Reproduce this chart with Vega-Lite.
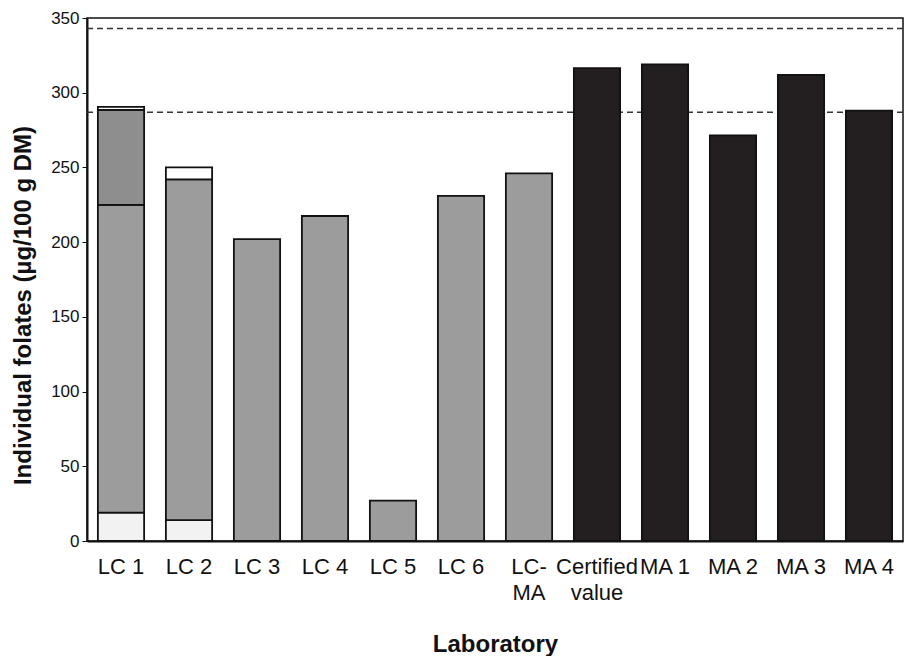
{
  "$schema": "https://vega.github.io/schema/vega-lite/v6.json",
  "width": 816,
  "height": 523,
  "autosize": {"type": "none"},
  "padding": {"left": 87, "top": 18, "right": 3, "bottom": 115},
  "background": "white",
  "config": {
    "view": {"stroke": "#111", "strokeWidth": 1.5},
    "font": "Liberation Sans"
  },
  "datasets": {
    "bars": [
      {"lab": "LC 1", "type": "dotted", "y0": 0, "y1": 19},
      {"lab": "LC 1", "type": "hatchB", "y0": 19, "y1": 225},
      {"lab": "LC 1", "type": "hatchF", "y0": 225, "y1": 288.5},
      {"lab": "LC 1", "type": "white", "y0": 288.5, "y1": 290.5},
      {"lab": "LC 2", "type": "dotted", "y0": 0, "y1": 14},
      {"lab": "LC 2", "type": "hatchB", "y0": 14, "y1": 242},
      {"lab": "LC 2", "type": "white", "y0": 242, "y1": 250},
      {"lab": "LC 3", "type": "hatchB", "y0": 0, "y1": 202},
      {"lab": "LC 4", "type": "hatchB", "y0": 0, "y1": 217.5},
      {"lab": "LC 5", "type": "hatchB", "y0": 0, "y1": 27},
      {"lab": "LC 6", "type": "hatchB", "y0": 0, "y1": 231},
      {"lab": "LC-MA", "type": "hatchB", "y0": 0, "y1": 246},
      {"lab": "Certified value", "type": "black", "y0": 0, "y1": 316.5},
      {"lab": "MA 1", "type": "black", "y0": 0, "y1": 319},
      {"lab": "MA 2", "type": "black", "y0": 0, "y1": 271.5},
      {"lab": "MA 3", "type": "black", "y0": 0, "y1": 312},
      {"lab": "MA 4", "type": "black", "y0": 0, "y1": 288}
    ],
    "refs": [{"v": 287}, {"v": 343}]
  },
  "layer": [
    {
      "data": {"name": "refs"},
      "mark": {"type": "rule", "strokeDash": [6, 4], "strokeWidth": 1.5, "color": "#333"},
      "encoding": {
        "y": {"field": "v", "type": "quantitative", "scale": {"domain": [0, 350]}}
      }
    },
    {
      "data": {"name": "bars"},
      "mark": {"type": "bar", "stroke": "#111", "strokeWidth": 1.8},
      "encoding": {
        "x": {
          "field": "lab",
          "type": "nominal",
          "sort": ["LC 1", "LC 2", "LC 3", "LC 4", "LC 5", "LC 6", "LC-MA", "Certified value", "MA 1", "MA 2", "MA 3", "MA 4"],
          "scale": {"paddingInner": 0.32, "paddingOuter": 0.16},
          "axis": {
            "title": "Laboratory",
            "titleFontSize": 24,
            "titleFontWeight": "bold",
            "titleColor": "#111",
            "titleY": 103,
            "titleBaseline": "middle",
            "labelAngle": 0,
            "labelFontSize": 22,
            "labelColor": "#111",
            "labelPadding": 15,
            "labelLineHeight": 26,
            "labelBaseline": "top",
            "ticks": false,
            "domainColor": "#111",
            "domainWidth": 2,
            "labelExpr": "datum.value == 'LC-MA' ? ['LC-', 'MA'] : datum.value == 'Certified value' ? ['Certified', 'value'] : datum.label"
          }
        },
        "y": {
          "field": "y0",
          "type": "quantitative",
          "scale": {"domain": [0, 350]},
          "axis": {
            "title": "Individual folates (µg/100 g DM)",
            "titleFontSize": 24,
            "titleFontWeight": "bold",
            "titleColor": "#111",
            "titleX": -64,
            "titleY": 287,
            "titleBaseline": "middle",
            "titleAlign": "center",
            "titleAngle": -90,
            "values": [0, 50, 100, 150, 200, 250, 300, 350],
            "labelFontSize": 17,
            "labelColor": "#111",
            "labelPadding": 3,
            "tickSize": 5,
            "tickColor": "#111",
            "domainColor": "#111",
            "domainWidth": 2,
            "grid": false
          }
        },
        "y2": {"field": "y1"},
        "fill": {
          "field": "type",
          "type": "nominal",
          "scale": {
            "domain": ["dotted", "hatchB", "hatchF", "white", "black"],
            "range": ["#f2f2f2", "#9c9c9c", "#8e8e8e", "#ffffff", "#231f20"]
          },
          "legend": null
        }
      }
    }
  ]
}
